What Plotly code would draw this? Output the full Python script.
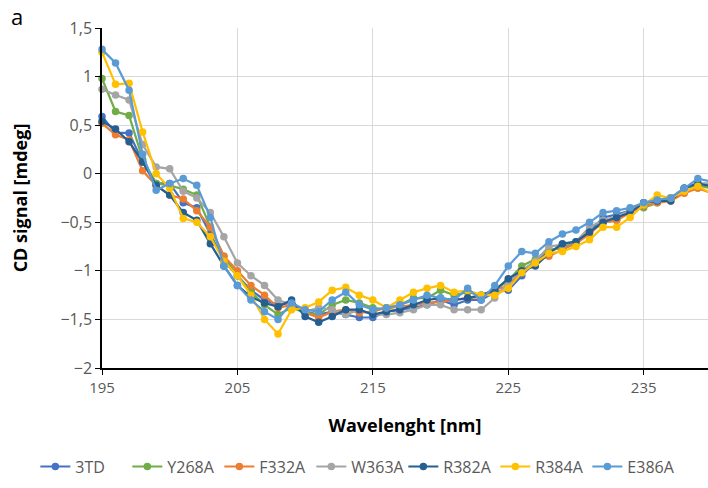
import plotly.graph_objects as go

wavelength = list(range(195, 241))

s_3TD = [0.59, 0.42, 0.42, 0.12, -0.10, -0.10, -0.30, -0.35, -0.62, -0.90,
         -1.05, -1.20, -1.30, -1.35, -1.33, -1.42, -1.45, -1.42, -1.45, -1.48,
         -1.48, -1.42, -1.40, -1.38, -1.35, -1.30, -1.35, -1.30, -1.30, -1.22,
         -1.20, -1.05, -0.90, -0.80, -0.75, -0.72, -0.60, -0.45, -0.42, -0.38,
         -0.30, -0.28, -0.25, -0.15, -0.10, -0.12]
s_Y268A = [0.98, 0.64, 0.60, 0.15, -0.10, -0.12, -0.16, -0.22, -0.55, -0.85,
           -1.05, -1.22, -1.35, -1.45, -1.38, -1.43, -1.45, -1.35, -1.30, -1.33,
           -1.38, -1.40, -1.35, -1.28, -1.28, -1.20, -1.25, -1.22, -1.25, -1.20,
           -1.10, -0.95, -0.88, -0.78, -0.77, -0.70, -0.60, -0.50, -0.48, -0.38,
           -0.35, -0.30, -0.25, -0.15, -0.12, -0.15]
s_F332A = [0.52, 0.40, 0.35, 0.03, -0.12, -0.22, -0.26, -0.38, -0.55, -0.85,
           -1.00, -1.15, -1.25, -1.38, -1.35, -1.43, -1.48, -1.42, -1.40, -1.43,
           -1.42, -1.38, -1.37, -1.35, -1.33, -1.32, -1.30, -1.28, -1.27, -1.20,
           -1.15, -1.00, -0.90, -0.85, -0.78, -0.72, -0.62, -0.50, -0.48, -0.40,
           -0.33, -0.30, -0.28, -0.20, -0.15, -0.20]
s_W363A = [0.87, 0.81, 0.76, 0.30, 0.07, 0.05, -0.18, -0.25, -0.40, -0.65,
           -0.92, -1.05, -1.15, -1.30, -1.35, -1.42, -1.38, -1.40, -1.45, -1.40,
           -1.45, -1.45, -1.43, -1.40, -1.35, -1.35, -1.40, -1.40, -1.40, -1.28,
           -1.12, -1.00, -0.90, -0.75, -0.73, -0.70, -0.55, -0.48, -0.44, -0.38,
           -0.30, -0.27, -0.25, -0.15, -0.10, -0.10]
s_R382A = [0.54, 0.46, 0.33, 0.12, -0.12, -0.22, -0.40, -0.48, -0.72, -0.95,
           -1.15, -1.27, -1.33, -1.37, -1.30, -1.47, -1.53, -1.47, -1.40, -1.40,
           -1.45, -1.42, -1.40, -1.35, -1.30, -1.28, -1.30, -1.28, -1.25, -1.20,
           -1.08, -1.00, -0.95, -0.82, -0.72, -0.70, -0.60, -0.50, -0.45, -0.40,
           -0.30, -0.28, -0.28, -0.15, -0.10, -0.13]
s_R384A = [1.25, 0.92, 0.93, 0.43, 0.00, -0.15, -0.46, -0.50, -0.65, -0.90,
           -1.05, -1.25, -1.50, -1.65, -1.40, -1.38, -1.32, -1.20, -1.17, -1.25,
           -1.30, -1.38, -1.30, -1.22, -1.18, -1.15, -1.22, -1.20, -1.25, -1.25,
           -1.18, -1.02, -0.92, -0.82, -0.80, -0.75, -0.68, -0.55, -0.55, -0.45,
           -0.32, -0.22, -0.25, -0.18, -0.13, -0.20]
s_E386A = [1.28, 1.14, 0.86, 0.20, -0.17, -0.10, -0.05, -0.12, -0.45, -0.95,
           -1.15, -1.30, -1.42, -1.50, -1.33, -1.40, -1.42, -1.30, -1.22, -1.35,
           -1.40, -1.38, -1.35, -1.30, -1.25, -1.28, -1.30, -1.18, -1.30, -1.15,
           -0.95, -0.80, -0.82, -0.70, -0.62, -0.58, -0.50, -0.40, -0.38, -0.35,
           -0.30, -0.27, -0.25, -0.15, -0.05, -0.08]

series_names = ["3TD", "Y268A", "F332A", "W363A", "R382A", "R384A", "E386A"]
series_values = [s_3TD, s_Y268A, s_F332A, s_W363A, s_R382A, s_R384A, s_E386A]
colors = ["#4472C4", "#70AD47", "#ED7D31", "#A5A5A5", "#255E91", "#FFC000", "#5B9BD5"]

x_ticks = [195, 205, 215, 225, 235]
y_ticks = [-2, -1.5, -1, -0.5, 0, 0.5, 1, 1.5]

fig = go.Figure()
for name, vals, col in zip(series_names, series_values, colors):
    fig.add_trace(go.Scatter(
        x=wavelength, y=vals, name=name, mode="lines+markers",
        line=dict(color=col, width=2.2),
        marker=dict(color=col, size=7.5),
        cliponaxis=False,
    ))

font_family = "Open Sans, Noto Sans, sans-serif"
fig.update_layout(
    width=708, height=488,
    margin=dict(l=102, r=0, t=28, b=120, autoexpand=False),
    paper_bgcolor="white", plot_bgcolor="white",
    separators=",.",
    font=dict(family=font_family, color="#595959", size=15),
    showlegend=True,
    legend=dict(orientation="h", x=-0.11, xanchor="left", y=-0.24, yanchor="top",
                font=dict(size=16, color="#595959"), itemwidth=30,
                entrywidth=47, entrywidthmode="pixels",
                tracegroupgap=0, traceorder="normal"),
    annotations=[dict(text="a", xref="paper", yref="paper", x=-0.153, y=1.035,
                      xanchor="left", yanchor="middle", showarrow=False,
                      font=dict(size=22, color="black"))],
)
fig.update_xaxes(
    range=[195, 239.75], tickvals=x_ticks, showgrid=True, gridcolor="#D9D9D9",
    showline=True, linecolor="#000000", linewidth=1.5, ticks="outside", ticklen=5,
    tickcolor="#000000", zeroline=False, automargin=False,
    title=dict(text="<b>Wavelenght [nm]</b>", font=dict(size=18, color="black"), standoff=24),
    tickfont=dict(size=15, color="#595959"),
)
fig.update_yaxes(
    range=[-2, 1.5], tickvals=y_ticks, showgrid=True, gridcolor="#D9D9D9",
    showline=True, linecolor="#000000", linewidth=1.5, ticks="outside", ticklen=5,
    tickcolor="#000000", zeroline=False, tickformat=".1~f", automargin=False,
    title=dict(text="<b>CD signal [mdeg]</b>", font=dict(size=18, color="black"), standoff=28),
    tickfont=dict(size=16, color="#595959"),
)
fig.write_html("out.html")
